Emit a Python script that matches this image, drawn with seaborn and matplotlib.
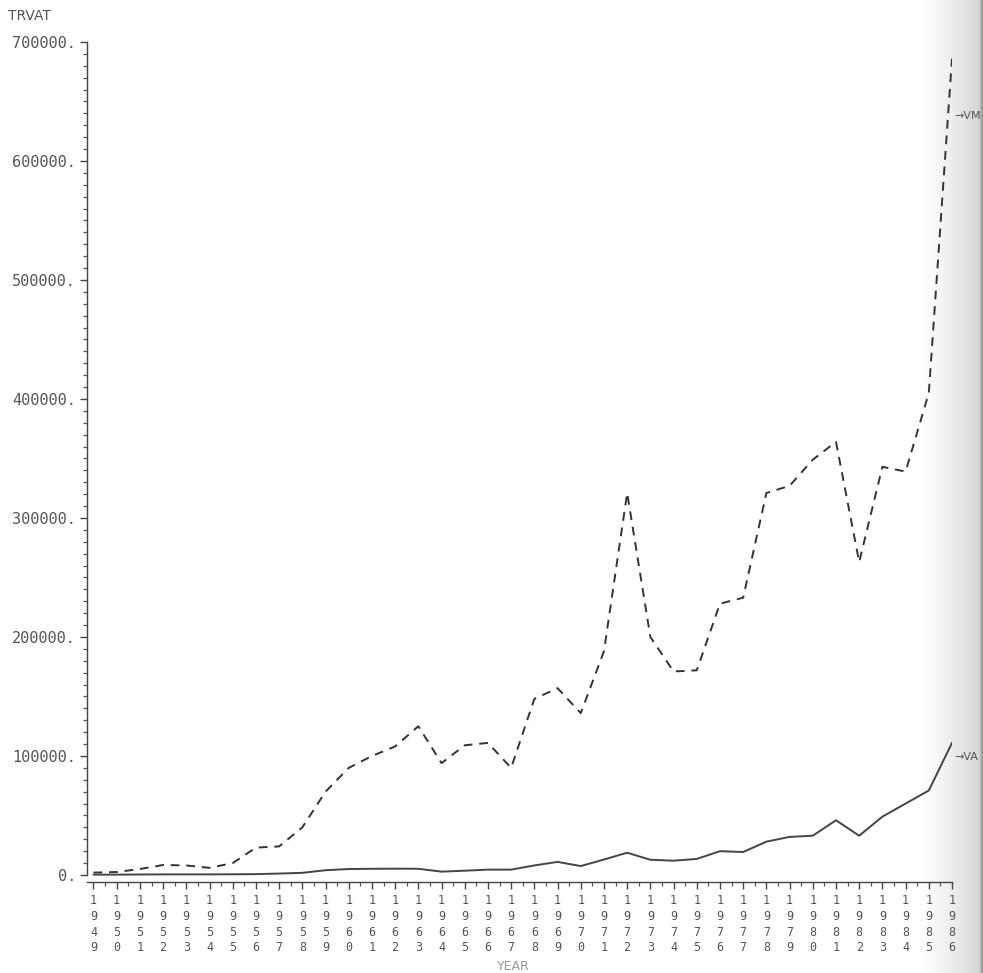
import numpy as np
import pandas as pd
import matplotlib
matplotlib.use("Agg")
import matplotlib.pyplot as plt
import seaborn as sns
from matplotlib.ticker import MultipleLocator, FixedLocator

# ---- data ----
years = list(range(1949, 1987))
vm = [2000, 2500, 5000, 8400, 8000, 6000, 10000, 23000, 24000, 40000,
      70000, 90000, 100000, 108000, 125000, 94000, 109000, 111000, 90000, 148000,
      157000, 136000, 188000, 321000, 200000, 171000, 172000, 228000, 233000, 321000,
      327000, 349000, 364000, 263000, 343000, 339000, 405000, 686000]
va = [300, 300, 400, 500, 500, 500, 600, 700, 1200, 1800,
      4000, 5000, 5200, 5300, 5200, 2800, 3600, 4500, 4500, 8000,
      11000, 7500, 13000, 18700, 12800, 12000, 13500, 20000, 19300, 28000,
      32000, 33000, 46000, 33000, 49000, 60000, 71000, 111000]
series_names = ["VM", "VA"]
y_ticks = [0, 100000, 200000, 300000, 400000, 500000, 600000, 700000]
y_title = "TRVAT"
x_title = "YEAR"

df = pd.DataFrame({"YEAR": years * 2,
                   "TRVAT": vm + va,
                   "series": [series_names[0]] * len(years) + [series_names[1]] * len(years)})

sns.set_style("white")
plt.rcParams["font.family"] = ["DejaVu Sans Mono", "DejaVu Sans"]

W, H = 983, 973
fig = plt.figure(figsize=(W / 100, H / 100), dpi=100)
fig.patch.set_facecolor("white")

# scan page-edge shading on the right
bg = fig.add_axes([915 / W, 0, (W - 915) / W, 1], zorder=-5)
grad = np.linspace(0, 1, 200)
shade = 1 - 0.18 * grad ** 1.5
shade[-12:] = np.linspace(shade[-13], 0.55, 12)
bg.imshow(np.tile(shade, (10, 1)), aspect="auto", cmap="gray", vmin=0, vmax=1,
          extent=[0, 1, 0, 1])
bg.set_axis_off()

left, right = 87 / W, 952 / W
bottom, top = 1 - 882 / H, 1 - 42 / H
ax = fig.add_axes([left, bottom, right - left, top - bottom])
ax.set_facecolor("none")

line_col = "#333333"
sns.lineplot(data=df, x="YEAR", y="TRVAT", hue="series", style="series",
             palette={series_names[0]: line_col, series_names[1]: "#444444"},
             dashes={series_names[0]: (4.5, 3.5), series_names[1]: ""},
             linewidth=1.4, legend=False, ax=ax)

ax.set_xlim(1948.72, 1986.0)
ax.set_ylim(-5900, 700000)

for s in ["top", "right"]:
    ax.spines[s].set_visible(False)
for s in ["left", "bottom"]:
    ax.spines[s].set_color("#444444")
    ax.spines[s].set_linewidth(1.0)
ax.spines["left"].set_bounds(0, 700000)

# y ticks
ax.yaxis.set_major_locator(FixedLocator(y_ticks))
ax.yaxis.set_minor_locator(MultipleLocator(10000))
ax.set_yticklabels([f"{v}." for v in y_ticks])
ax.tick_params(axis="y", which="major", direction="out", length=5, width=1.0,
               color="#444444", labelsize=11, labelcolor="#555555", pad=3, left=True)
ax.tick_params(axis="y", which="minor", direction="out", length=3, width=0.9,
               color="#555555", left=True)

# x ticks
ax.xaxis.set_major_locator(FixedLocator(years))
ax.xaxis.set_minor_locator(FixedLocator([y + 0.5 for y in years[:-1]]))
ax.set_xticklabels(["\n".join(str(y)) for y in years], linespacing=1.25)
ax.tick_params(axis="x", which="major", direction="out", length=5, width=1.0,
               color="#444444", labelsize=8.5, labelcolor="#555555", pad=4, bottom=True)
ax.tick_params(axis="x", which="minor", direction="out", length=3, width=0.9,
               color="#555555", bottom=True)

ax.set_xlabel("")
ax.set_ylabel("")

fig.text(8 / W, 1 - 16 / H, y_title, fontsize=10, color="#555555",
         family="DejaVu Sans", va="center", ha="left")
fig.text(497 / W, 1 - 966 / H, x_title, fontsize=9, color="#999999",
         family="DejaVu Sans", va="center", ha="left")

# end labels
ax.text(1986.1, 638000, "→" + series_names[0], fontsize=8, color="#555555",
        family="DejaVu Sans", va="center", ha="left", clip_on=False)
ax.text(1986.1, 99000, "→" + series_names[1], fontsize=8, color="#555555",
        family="DejaVu Sans", va="center", ha="left", clip_on=False)

fig.savefig("out.png", dpi=100, facecolor="white")
